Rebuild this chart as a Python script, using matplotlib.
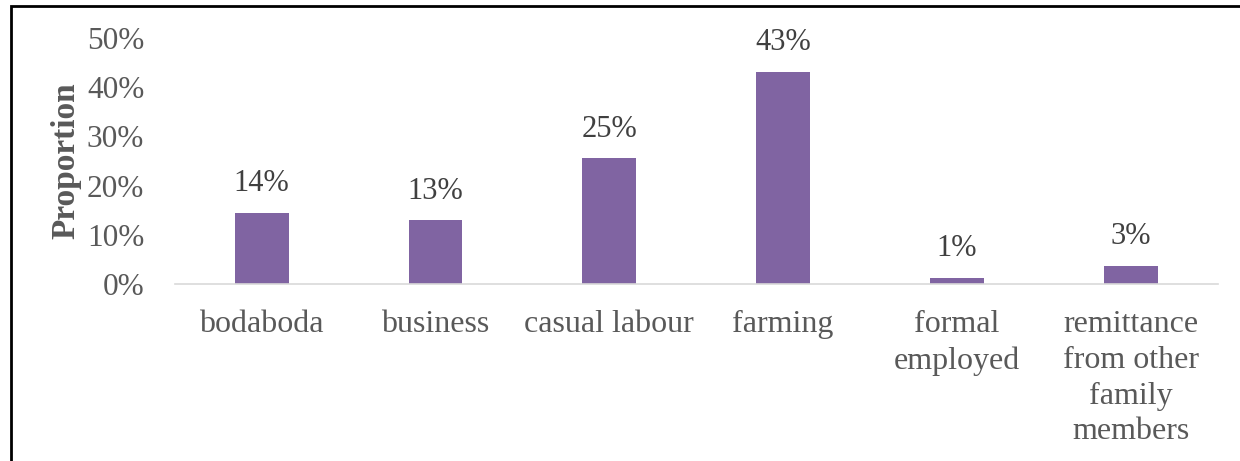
import numpy as np
import matplotlib.pyplot as plt
from matplotlib.patches import Rectangle
from matplotlib.ticker import FuncFormatter

# Donnees
categories = ["bodaboda", "business", "casual labour", "farming",
              "formal\nemployed", "remittance\nfrom other\nfamily\nmembers"]
valeurs = [0.145, 0.129, 0.255, 0.43, 0.012, 0.036]
etiquettes = ["14%", "13%", "25%", "43%", "1%", "3%"]
yticks = [0, 0.1, 0.2, 0.3, 0.4, 0.5]

plt.rcParams['font.family'] = ['Liberation Serif', 'DejaVu Serif']

fig = plt.figure(figsize=(12.4, 4.61), dpi=100)
ax = fig.add_axes([0.141, 0.384, 0.841, 0.534])

x = np.arange(len(categories))
ax.bar(x, valeurs, width=0.31, color='#8064a2', zorder=3)

for xi, v, lab in zip(x, valeurs, etiquettes):
    ax.text(xi, v + 0.03, lab, ha='center', va='bottom',
            fontsize=22, color='#404040')

ax.set_xlim(-0.5, len(categories) - 0.5)
ax.set_ylim(0, 0.5)
ax.set_yticks(yticks)
ax.yaxis.set_major_formatter(FuncFormatter(lambda v, p: "{:.0f}%".format(v * 100)))
ax.set_xticks(x)
ax.set_xticklabels(categories, linespacing=1.3)

ax.tick_params(axis='y', length=0, pad=22, labelsize=22.5, labelcolor='#595959')
ax.tick_params(axis='x', length=0, pad=19, labelsize=23, labelcolor='#595959')

for s in ['top', 'right', 'left']:
    ax.spines[s].set_visible(False)
ax.spines['bottom'].set_color('#d9d9d9')
ax.spines['bottom'].set_linewidth(1.2)
ax.spines['bottom'].set_zorder(4)

ax.set_ylabel("Proportion", fontsize=24, fontweight='bold', color='#595959')
ax.yaxis.set_label_coords(-0.09, 0.5)

# Cadre autour de la figure
fig.patches.append(Rectangle((11 / 1240, -0.05), 1.2, 1.05 - 6 / 461,
                             transform=fig.transFigure, fill=False,
                             edgecolor='black', linewidth=2))

fig.savefig("out.png", dpi=100)
